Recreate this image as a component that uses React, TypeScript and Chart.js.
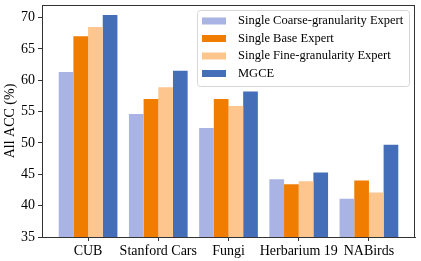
import React, { useEffect, useRef } from "react";
import { Chart, registerables } from "chart.js";

Chart.register(...registerables);

const categories = ["CUB", "Stanford Cars", "Fungi", "Herbarium 19", "NABirds"];
const seriesNames = [
  "Single Coarse-granularity Expert",
  "Single Base Expert",
  "Single Fine-granularity Expert",
  "MGCE",
];
const coarseValues = [61.3, 54.6, 52.4, 44.2, 41.1];
const baseValues = [67.0, 57.0, 57.0, 43.4, 44.0];
const fineValues = [68.5, 58.9, 55.9, 43.9, 42.1];
const mgceValues = [70.4, 61.5, 58.2, 45.3, 49.7];
const seriesColors = ["#AAB4E4", "#F07C00", "#FDC68E", "#446EB8"];
const yTicks = [35, 40, 45, 50, 55, 60, 65, 70];

const FONT = "'Liberation Serif', 'Times New Roman', serif";

const frameAndLegend = {
  id: "frameAndLegend",
  afterDraw(chart: any) {
    const { ctx, chartArea } = chart;
    ctx.save();
    // frame
    ctx.strokeStyle = "#333333";
    ctx.lineWidth = 1;
    ctx.strokeRect(
      Math.round(chartArea.left) + 0.5,
      Math.round(chartArea.top) + 0.5,
      Math.round(chartArea.right - chartArea.left) - 1,
      Math.round(chartArea.bottom - chartArea.top)
    );
    // legend box
    const bx = 197.5, by = 10.5, bw = 212, bh = 76, r = 3;
    ctx.beginPath();
    ctx.moveTo(bx + r, by);
    ctx.lineTo(bx + bw - r, by);
    ctx.quadraticCurveTo(bx + bw, by, bx + bw, by + r);
    ctx.lineTo(bx + bw, by + bh - r);
    ctx.quadraticCurveTo(bx + bw, by + bh, bx + bw - r, by + bh);
    ctx.lineTo(bx + r, by + bh);
    ctx.quadraticCurveTo(bx, by + bh, bx, by + bh - r);
    ctx.lineTo(bx, by + r);
    ctx.quadraticCurveTo(bx, by, bx + r, by);
    ctx.closePath();
    ctx.fillStyle = "rgba(255,255,255,0.85)";
    ctx.fill();
    ctx.strokeStyle = "#d6d6d6";
    ctx.stroke();
    ctx.font = `12.5px ${FONT}`;
    ctx.textBaseline = "middle";
    ctx.textAlign = "left";
    seriesNames.forEach((name, i) => {
      const cy = 21 + i * 17.5;
      ctx.fillStyle = seriesColors[i];
      ctx.fillRect(202, cy - 3.5, 24, 7);
      ctx.fillStyle = "#000000";
      ctx.fillText(name, 238, cy);
    });
    ctx.restore();
  },
};

export default function App() {
  const ref = useRef<HTMLCanvasElement>(null);
  useEffect(() => {
    if (!ref.current) return;
    const valueSets = [coarseValues, baseValues, fineValues, mgceValues];
    const chart = new Chart(ref.current, {
      type: "bar",
      data: {
        datasets: seriesNames.map((name, i) => ({
          label: name,
          data: valueSets[i].map((v, j) => ({ x: j, y: v })),
          backgroundColor: seriesColors[i],
          borderWidth: 0,
          categoryPercentage: 0.836,
          barPercentage: 1,
        })),
      },
      options: {
        animation: false,
        responsive: true,
        maintainAspectRatio: false,
        layout: { padding: { top: 5, right: 6, left: 0, bottom: 0 } },
        plugins: { legend: { display: false }, tooltip: { enabled: false } },
        scales: {
          x: {
            type: "linear",
            offset: false,
            min: -0.656,
            max: 4.656,
            afterBuildTicks: (s: any) => {
              s.ticks = categories.map((_, i) => ({ value: i }));
            },
            afterFit: (s: any) => {
              s.height = 24;
              s.paddingLeft = 0;
              s.paddingRight = 0;
            },
            grid: {
              offset: false,
              drawOnChartArea: false,
              tickLength: 4,
              color: "#333333",
            },
            border: { color: "#333333" },
            ticks: {
              autoSkip: false,
              maxRotation: 0,
              padding: 2,
              color: "#000000",
              font: { family: FONT, size: 14 },
              callback: (v: any) => categories[v] ?? "",
            },
          },
          y: {
            min: 35,
            max: 72,
            afterBuildTicks: (s: any) => {
              s.ticks = yTicks.map((v) => ({ value: v }));
            },
            afterFit: (s: any) => {
              s.width = 42;
              s.paddingTop = 0;
              s.paddingBottom = 0;
            },
            grid: {
              drawOnChartArea: false,
              tickLength: 4,
              color: "#333333",
            },
            border: { color: "#333333" },
            ticks: {
              padding: 3,
              color: "#000000",
              font: { family: FONT, size: 14 },
            },
            title: {
              display: true,
              text: "All ACC (%)",
              color: "#000000",
              font: { family: FONT, size: 14 },
              padding: { top: 2, bottom: 0 },
            },
          },
        },
      },
      plugins: [frameAndLegend],
    });
    return () => chart.destroy();
  }, []);
  return (
    <div style={{ position: "fixed", left: 0, top: 0, width: 421, height: 261, background: "#fff" }}>
      <canvas ref={ref} />
    </div>
  );
}
